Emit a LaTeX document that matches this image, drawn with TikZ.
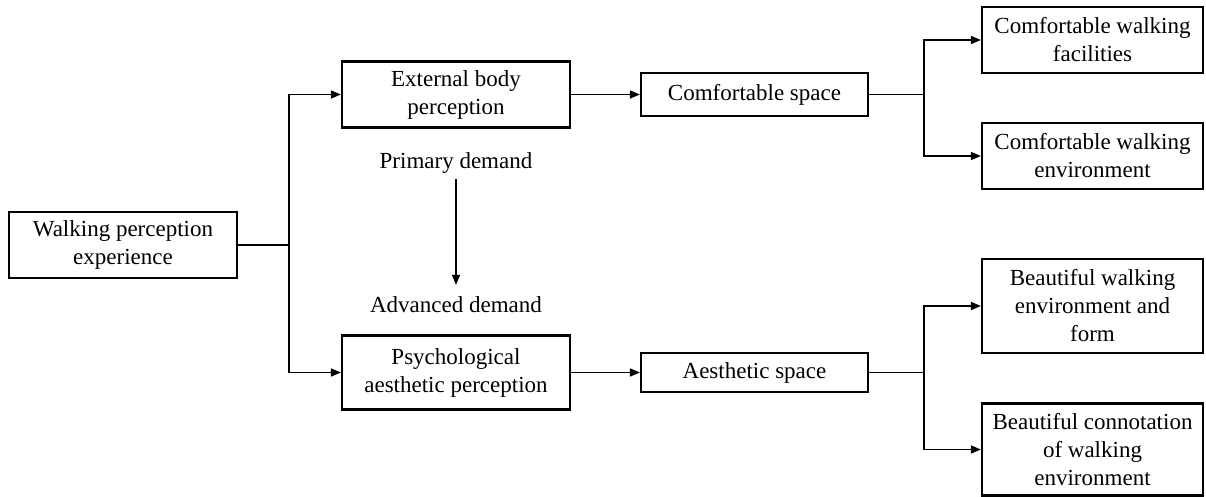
\documentclass[tikz,border=0pt]{standalone}
\usepackage{fontspec}
\setmainfont{Liberation Serif}
\usetikzlibrary{arrows.meta}
\begin{document}
\begin{tikzpicture}[x=1pt,y=-1pt,
  box/.style={draw, line width=2.2pt, align=center, inner sep=0pt,
    font=\fontsize{23}{28}\selectfont, minimum width=228pt},
  conn/.style={line width=1.5pt},
  arr/.style={conn, -{Triangle[length=10pt,width=8pt]}},
  lbl/.style={font=\fontsize{23}{28}\selectfont, inner sep=0pt,
    text height=15pt, text depth=5pt}]

% canvas
\path[fill=white] (0,0) rectangle (1206,497);
\useasboundingbox (0,0) rectangle (1206,497);

% root
\node[box, minimum height=66pt] (walk) at (123,245) {Walking perception\\experience};

% perception levels
\node[box, minimum height=66pt] (ext) at (456,94.5) {External body\\perception};
\node[box, minimum height=74pt] (psy) at (456,372.5) {Psychological\\aesthetic perception};

% spaces
\node[box, minimum width=227pt, minimum height=43pt] (cs) at (754.5,94.5) {Comfortable space};
\node[box, minimum width=227pt, minimum height=39pt] (as) at (754.5,372.5) {Aesthetic space};

% leaves
\node[box, minimum width=221pt, minimum height=66pt] (cf) at (1092.5,40) {Comfortable walking\\facilities};
\node[box, minimum width=221pt, minimum height=66pt] (ce) at (1092.5,156) {Comfortable walking\\environment};
\node[box, minimum width=221pt, minimum height=94pt] (bf) at (1092.5,306) {Beautiful walking\\environment and\\form};
\node[box, minimum width=221pt, minimum height=92pt] (bc) at (1092.5,449.5) {Beautiful connotation\\of walking\\environment};

% demand labels
\node[lbl, anchor=base] (prim) at (456,168) {Primary demand};
\node[lbl, anchor=base] (adv) at (456,312) {Advanced demand};

% junctions
\coordinate (j1) at (289,245);
\coordinate (j2) at (924,94.5);
\coordinate (j3) at (924,372.5);

% connectors
\draw[conn] (walk.east) -- (j1);
\draw[arr] (j1) |- (ext.west);
\draw[arr] (j1) |- (psy.west);
\draw[arr] (ext.east) -- (cs.west);
\draw[arr] (psy.east) -- (as.west);
\draw[conn] (cs.east) -- (j2);
\draw[arr] (j2) |- (cf.west);
\draw[arr] (j2) |- (ce.west);
\draw[conn] (as.east) -- (j3);
\draw[arr] (j3) |- (bf.west);
\draw[arr] (j3) |- (bc.west);
\draw[arr, shorten <=6pt, shorten >=12pt] (prim.south) -- (adv.north);
\end{tikzpicture}
\end{document}
